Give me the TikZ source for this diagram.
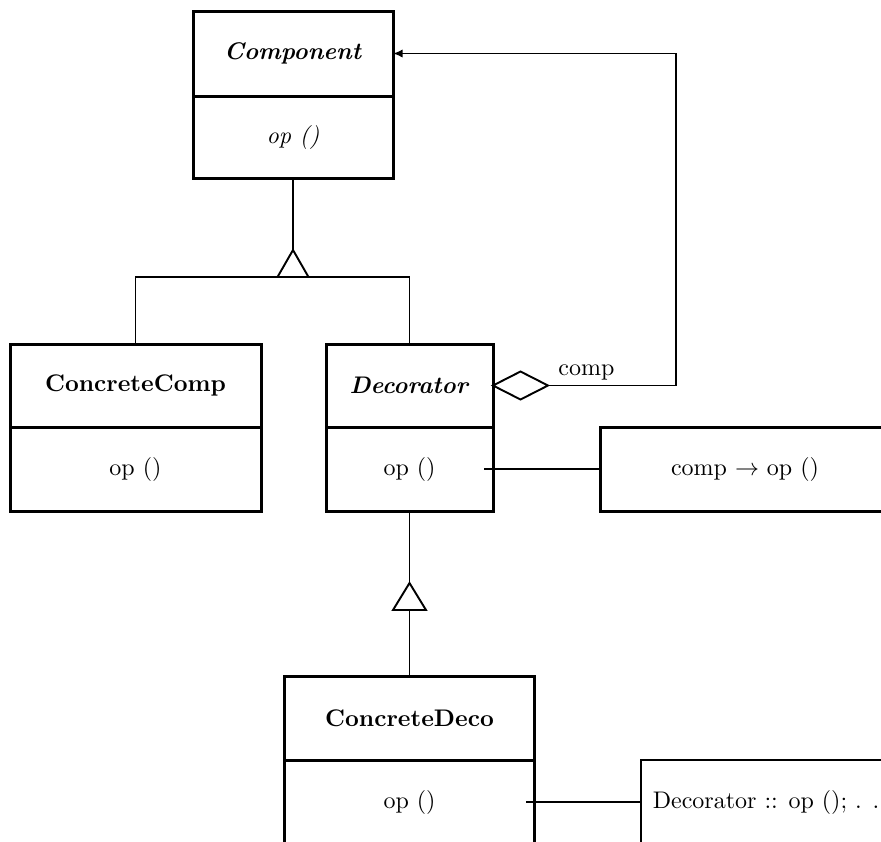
\documentclass[tikz,border=0pt]{standalone}
\usetikzlibrary{arrows.meta,positioning,shapes.geometric}
\newcommand{\pxu}{0.4167pt}
\tikzset{
  cls/.style={draw, line width=1.25pt, outer sep=0pt, inner sep=0pt,
    minimum width=#1*\pxu, minimum height=84*\pxu},
  note/.style={cls=#1, line width=0.9pt},
  link/.style={line width=0.8pt},
}

\begin{document}
\begin{tikzpicture}[x=\pxu, y=-\pxu]
    \useasboundingbox (0,0) rectangle (881,841);
    \clip (0,0) rectangle (881,841);
    % classes
    \node[cls=200, minimum height=85*\pxu] (comp) at (293,53.5) {\textbf{\textit{Component}}};
    \node[cls=200, minimum height=82*\pxu, below=0pt of comp] (compbody) {\textit{op ()}};
    \node[cls=251, minimum height=83*\pxu] (ccomp) at (135.5,385.5) {\textbf{ConcreteComp}};
    \node[cls=251, below=0pt of ccomp] (ccompbody) {op ()};
    \node[cls=167, minimum height=83*\pxu] (deco) at (409.5,385.5) {\textbf{\textit{Decorator}}};
    \node[cls=167, below=0pt of deco] (decobody) {op ()};
    \node[cls=250] (cdeco) at (409.5,718) {\textbf{ConcreteDeco}};
    \node[cls=250, below=0pt of cdeco] (cdecobody) {op ()};
    % notes
    \node[cls=290] (note1) at (745,469) {comp $\rightarrow$ op ()};
    \node[note=250] (note2) at (766,802) {Decorator :: op (); . .};
    % inheritance
    \coordinate (tip1) at (293,250);
    \coordinate (bar1) at (293,277);
    \draw[link] (tip1) -- ++(-15.5,27) -- ++(31,0) -- cycle;
    \draw[link] (compbody.south) -- (tip1);
    \draw[link] (ccomp.north) |- (bar1) -| (deco.north);
    \coordinate (tip2) at (409.5,583);
    \coordinate (bar2) at (409.5,610);
    \draw[link] (tip2) -- ++(-16.5,27) -- ++(33,0) -- cycle;
    \draw[link] (decobody.south) -- (tip2);
    \draw[link] (bar2) -- (cdeco.north);
    % aggregation
    \node[diamond, draw, link, inner sep=0pt, outer sep=0pt, aspect=2,
      minimum width=55*\pxu, minimum height=28*\pxu, right=0pt of deco] (agg) {};
    \coordinate (turn) at (676,53.5);
    \draw[link, -{Latex[length=4pt, width=3.5pt]}] (agg.east)
      -- node[above, inner sep=2pt, pos=0.3] {comp} (agg.east -| turn)
      -- (turn) -- (comp.east);
    % note links
    \coordinate (d1) at (484,469);
    \coordinate (d2) at (526,802);
    \draw[link] (d1) -- (note1.west);
    \draw[link] (d2) -- (note2.west);
\end{tikzpicture}
\end{document}
